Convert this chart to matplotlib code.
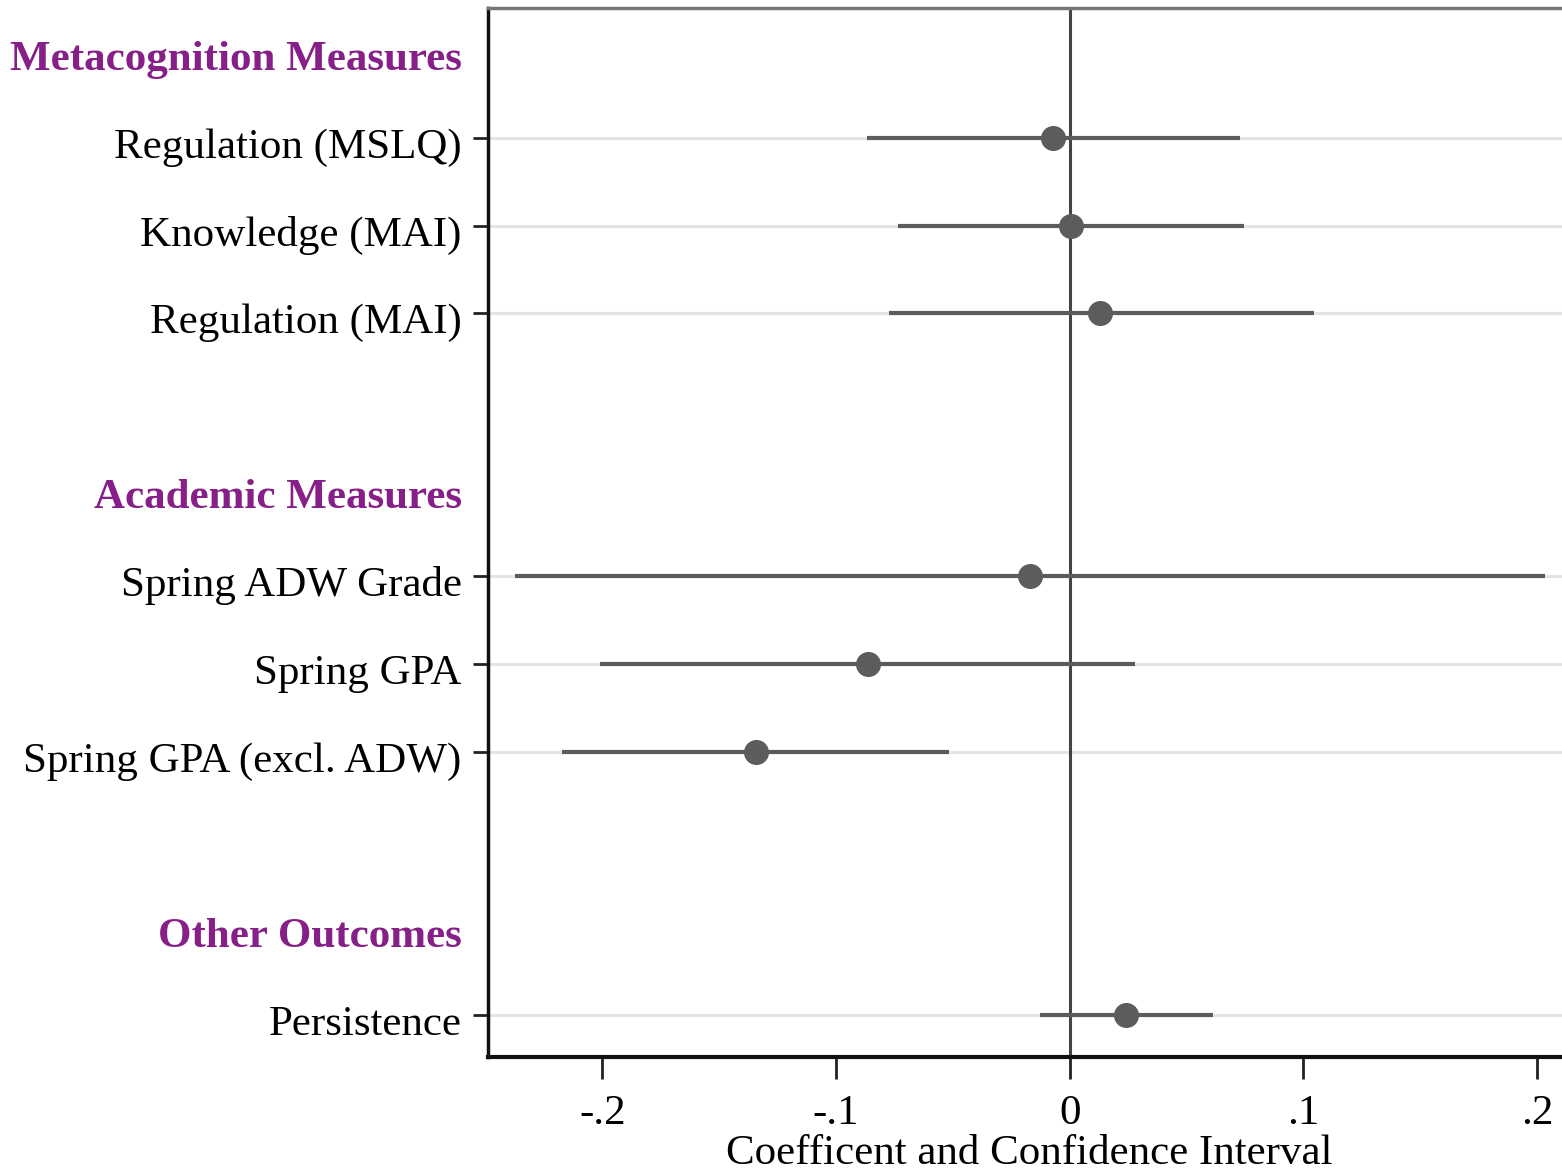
import matplotlib
matplotlib.use("Agg")
import matplotlib.pyplot as plt
import matplotlib.transforms as mtransforms

# rows of the coefplot, top to bottom
groups = ["Metacognition Measures", "Academic Measures", "Other Outcomes"]
labels = [
    ["Regulation (MSLQ)", "Knowledge (MAI)", "Regulation (MAI)"],
    ["Spring ADW Grade", "Spring GPA", "Spring GPA (excl. ADW)"],
    ["Persistence"],
]
coef = [
    [-0.007, 0.0004, 0.013],
    [-0.017, -0.0865, -0.1345],
    [0.024],
]
ci_low = [
    [-0.087, -0.0735, -0.0775],
    [-0.2375, -0.201, -0.2172],
    [-0.0128],
]
ci_high = [
    [0.073, 0.0745, 0.1045],
    [0.2035, 0.0278, -0.0518],
    [0.0612],
]

xticks = [-0.2, -0.1, 0, 0.1, 0.2]
xticklabels = ["-.2", "-.1", "0", ".1", ".2"]

plt.rcParams['font.family'] = ['Liberation Serif', 'DejaVu Serif']

fig = plt.figure(figsize=(15.62, 11.73), dpi=100)
ax = fig.add_axes([488 / 1562, 1 - 1057 / 1173, (1570 - 488) / 1562, (1057 - 8) / 1173])

purple = '#861f87'
dot = '#5c5c5c'
fs = 31

ytick_pos, ytick_lab, header_pos = [], [], []
row = 0
for g, name in enumerate(groups):
    header_pos.append(row)
    ytick_pos.append(row)
    ytick_lab.append(name)
    row += 1
    for i, lab in enumerate(labels[g]):
        ax.axhline(row, color='#e4e4e4', lw=2.2, zorder=0)
        ax.plot([ci_low[g][i], ci_high[g][i]], [row, row], color=dot, lw=3, zorder=2,
                solid_capstyle='butt')
        ax.plot(coef[g][i], row, 'o', color=dot, ms=17, zorder=3)
        ytick_pos.append(row)
        ytick_lab.append(lab)
        row += 1
    row += 1  # blank spacer

ax.axvline(0, color='#444444', lw=2.2, zorder=1)

ax.set_xlim(-0.249, 0.2141)
ax.set_ylim(11.48, -0.48)

ax.set_yticks(ytick_pos)
ax.set_yticklabels(ytick_lab, fontsize=fs)
ax.tick_params(axis='y', length=11, width=2, pad=8, color='#222222')
shift = mtransforms.ScaledTranslation(0, -5 / 100, fig.dpi_scale_trans)
for tick, pos in zip(ax.yaxis.get_major_ticks(), ytick_pos):
    tick.label1.set_transform(tick.label1.get_transform() + shift)
    if pos in header_pos:
        tick.tick1line.set_visible(False)
        tick.label1.set_color(purple)
        tick.label1.set_fontweight('bold')

ax.set_xticks(xticks)
ax.set_xticklabels(xticklabels, fontsize=fs)
ax.tick_params(axis='x', length=16, width=2, pad=11, color='#222222')
ax.set_xlabel("Coefficent and Confidence Interval", fontsize=fs, labelpad=1)

ax.spines['right'].set_visible(False)
ax.spines['top'].set_color('#777777')
ax.spines['top'].set_linewidth(2.5)
ax.spines['left'].set_linewidth(2.5)
ax.spines['bottom'].set_linewidth(3)
ax.spines['left'].set_color('#111111')
ax.spines['bottom'].set_color('#111111')

fig.savefig("out.png", dpi=100)
